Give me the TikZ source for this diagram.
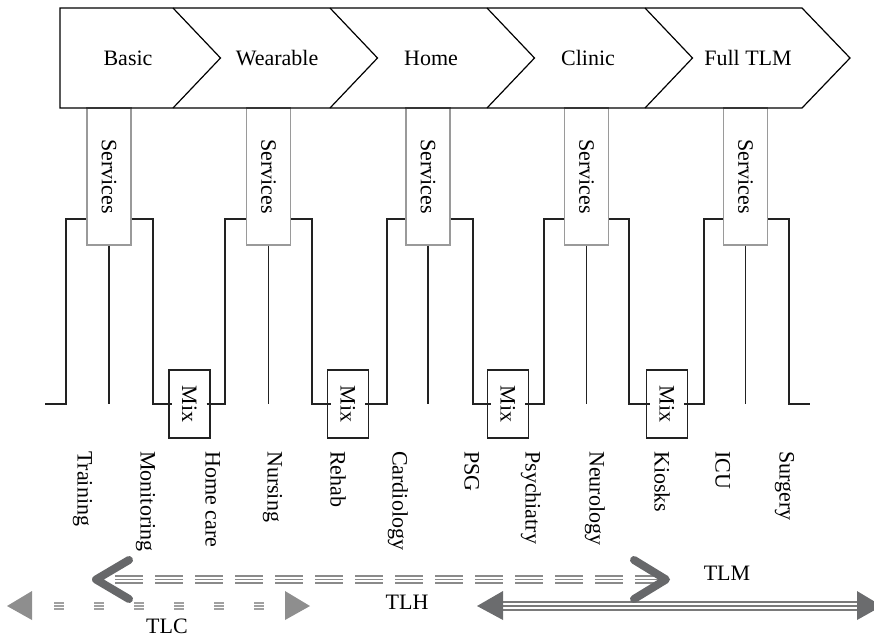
\documentclass[tikz,border=0pt]{standalone}
\usepackage{fontspec}
\setmainfont{Liberation Serif}
\definecolor{svcgray}{HTML}{9A9A9A}
\definecolor{wirecol}{HTML}{222222}
\definecolor{headgray}{HTML}{67686A}
\definecolor{tlhgray}{HTML}{8A8A8A}
\definecolor{tlcgray}{HTML}{8E8E8E}
\definecolor{tlcdash}{HTML}{A0A0A0}
\definecolor{tlmgray}{HTML}{6B6C6E}
\definecolor{tlmline}{HTML}{7A7A7A}
\begin{document}
\begin{tikzpicture}[x=1pt,y=-1pt,
  every node/.style={font=\fontsize{22}{26}\selectfont, inner sep=0pt},
  chev/.style={draw=black, line width=1.2pt, line join=miter},
  svc/.style={draw=svcgray, line width=1.1pt, fill=white, minimum width=44pt, minimum height=137pt},
  mixbox/.style={draw=wirecol, line width=1.2pt, minimum width=41pt, minimum height=68pt},
  wire/.style={draw=wirecol, line width=1.2pt},
  vlabel/.style={rotate=-90, anchor=mid west},
  vtext/.style={rotate=-90},
  tlhhead/.style={draw=headgray, line width=8pt, line cap=round, line join=round},
  tlhdash/.style={draw=tlhgray, line width=1.3pt, dash pattern=on 28pt off 12pt},
  tlcdashes/.style={draw=tlcdash, line width=1.2pt, dash pattern=on 10pt off 30pt},
  tlmshaft/.style={draw=tlmline, line width=1.5pt}]
\useasboundingbox (0,0) rectangle (874,638);

% Services boxes
\node[svc] (s1) at (109,176.5) {};
\node[svc] (s2) at (268.5,176.5) {};
\node[svc] (s3) at (428,176.5) {};
\node[svc] (s4) at (586.5,176.5) {};
\node[svc] (s5) at (745.5,176.5) {};
\foreach \s in {s1,s2,s3,s4,s5} \node[vtext] at (\s) {Services};

% Chevron band
\draw[chev] (60,8) -- (802,8) -- (850,58) -- (802,108) -- (60,108) -- cycle;
\foreach \b in {173,330,487,645} \draw[chev] (\b,8) -- (\b+47.5,58) -- (\b,108);
\node (basic) at (128,58) {Basic};
\node (wear) at (277,58) {Wearable};
\node (home) at (431,58) {Home};
\node (clinic) at (588,58) {Clinic};
\node (full) at (748,58) {Full TLM};

% Mix boxes
\node[mixbox] (m1) at (189.5,404) {};
\node[mixbox] (m2) at (348,404) {};
\node[mixbox] (m3) at (508,404) {};
\node[mixbox] (m4) at (667,404) {};
\foreach \m in {m1,m2,m3,m4} \node[vtext] at (\m) {Mix};

% Wires
\coordinate (start) at (45,404);
\coordinate (end) at (810,404);
\draw[wire] (start) -| (66,219) -- (s1.west |- 0,219);
\draw[wire] (s1.east |- 0,219) -| (153,404) -- ([xshift=4pt]m1.west);
\draw[wire] ([xshift=-4pt]m1.east) -| (225,219) -- (s2.west |- 0,219);
\draw[wire] (s2.east |- 0,219) -| (312,404) -- ([xshift=4pt]m2.west);
\draw[wire] ([xshift=-4pt]m2.east) -| (387,219) -- (s3.west |- 0,219);
\draw[wire] (s3.east |- 0,219) -| (473,404) -- ([xshift=4pt]m3.west);
\draw[wire] ([xshift=-4pt]m3.east) -| (544,219) -- (s4.west |- 0,219);
\draw[wire] (s4.east |- 0,219) -| (629,404) -- ([xshift=4pt]m4.west);
\draw[wire] ([xshift=-4pt]m4.east) -| (704,219) -- (s5.west |- 0,219);
\draw[wire] (s5.east |- 0,219) -| (789,404) -- (end);
\foreach \s in {s1,s2,s3,s4,s5} \draw[wire] (\s.south) -- (\s.south |- 0,404);

% Bottom labels
\node[vlabel] (l1) at (80,451) {Training};
\node[vlabel] (l2) at (143,451) {Monitoring};
\node[vlabel] (l3) at (208,451) {Home care};
\node[vlabel] (l4) at (270,451) {Nursing};
\node[vlabel] (l5) at (333,451) {Rehab};
\node[vlabel] (l6) at (395,451) {Cardiology};
\node[vlabel] (l7) at (467,451) {PSG};
\node[vlabel] (l8) at (528,451) {Psychiatry};
\node[vlabel] (l9) at (592,451) {Neurology};
\node[vlabel] (l10) at (657,451) {Kiosks};
\node[vlabel] (l11) at (718,451) {ICU};
\node[vlabel] (l12) at (782,451) {Surgery};

% TLC arrow
\foreach \y in {603,606,609} \draw[tlcdashes] (54,\y) -- (270,\y);
\fill[tlcgray] (7,606) -- (32,591) -- (32,620) -- cycle;
\fill[tlcgray] (310,606) -- (285,591) -- (285,620) -- cycle;
\node (tlc) at (167,626) {TLC};

% TLM arrow
\foreach \y in {602,606,610} \draw[tlmshaft] (500,\y) -- (860,\y);
\fill[tlmgray] (477,606) -- (503,591) -- (503,620) -- cycle;
\fill[tlmgray] (857,591) -- (857,620) -- (882,606) -- cycle;
\node (tlm) at (727,573) {TLM};

% TLH arrow
\foreach \y in {576,579.5,583} \draw[tlhdash] (115,\y) -- (658,\y);
\draw[tlhhead] (129,560) -- (96,579.5) -- (129,599);
\draw[tlhhead] (634,560) -- (666,579.5) -- (634,599);
\node (tlh) at (407,602) {TLH};
\end{tikzpicture}
\end{document}
